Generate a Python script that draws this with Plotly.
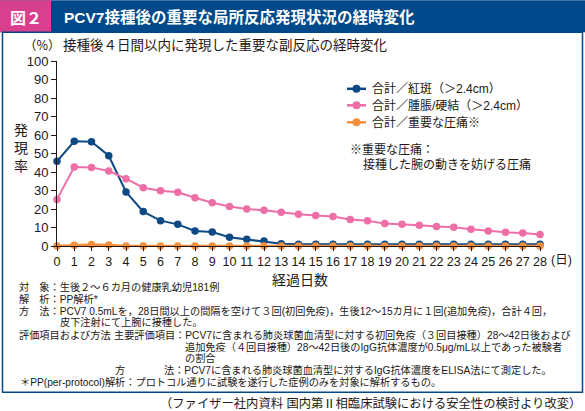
import plotly.graph_objects as go

# ---- data ----
days = list(range(0, 29))
erythema = [45.8, 56.6, 56.4, 48.8, 29.2, 18.6, 13.7, 11.7, 8.1, 7.6, 4.7, 3.6, 2.7, 1.2,
            0.9, 0.9, 0.9, 0.9, 0.9, 0.9, 0.9, 0.9, 0.9, 0.9, 0.9, 0.9, 0.9, 0.9, 0.9]
swelling = [25.2, 42.7, 42.5, 40.5, 36.4, 31.5, 29.9, 29.0, 26.1, 23.4, 21.4, 20.0, 19.3, 18.2,
            17.2, 16.5, 15.9, 14.3, 13.6, 12.1, 11.7, 11.2, 10.5, 10.1, 9.0, 8.1, 7.4, 7.0, 6.2]
tenderness = [0.0, 0.4, 0.8, 0.5, 0.0, 0.0, 0.0, 0.0, 0.0, 0.0, 0.0, 0.0, 0.0, 0.0,
              0.0, 0.0, 0.0, 0.0, 0.0, 0.0, 0.0, 0.0, 0.0, 0.0, 0.0, 0.0, 0.0, 0.0, 0.0]
series_names = ["合計／紅斑（＞2.4cm）", "合計／腫脹/硬結（＞2.4cm）", "合計／重要な圧痛※"]
y_ticks = list(range(0, 101, 10))

# ---- style ----
W, H = 585, 411
L, R, T, B = 57, 45, 60.7, 411 - 245.7
PW, PH = W - L - R, H - T - B
C_BLUE = "#0d4a85"
C_PINK = "#ee6ea8"
C_ORANGE = "#f5913e"
C_BAR = "#00498a"
C_FIGBOX = "#d8408d"
C_TEXT = "#231815"
JP = "Noto Sans CJK JP"
LAT = "Liberation Sans, Noto Sans CJK JP"


def px(x):
    return (x - L) / PW


def py(y):
    return (H - B - y) / PH


fig = go.Figure()
colors = [C_BLUE, C_PINK, C_ORANGE]
values = [erythema, swelling, tenderness]
widths = [2, 2, 2.5]
for name, vals, col, w in zip(series_names, values, colors, widths):
    fig.add_trace(go.Scatter(
        x=days, y=vals, name=name, mode="lines+markers",
        line=dict(color=col, width=w),
        marker=dict(color=col, size=7.5),
        cliponaxis=False, showlegend=False))

shapes = []
ann = []

# title bar
shapes.append(dict(type="rect", xref="paper", yref="paper", x0=px(0), x1=px(W), y0=py(0), y1=py(32),
                   fillcolor=C_BAR, line=dict(width=0), layer="below"))
shapes.append(dict(type="rect", xref="paper", yref="paper", x0=px(0), x1=px(51), y0=py(0), y1=py(32),
                   fillcolor=C_FIGBOX, line=dict(width=0), layer="below"))
# outer box
shapes.append(dict(type="rect", xref="paper", yref="paper", x0=px(2.5), x1=px(582.5), y0=py(32), y1=py(392),
                   fillcolor="rgba(0,0,0,0)", line=dict(color=C_BAR, width=1.5), layer="below"))

ann.append(dict(text="<b>図２</b>", x=px(26), y=py(17), font=dict(family=JP, size=16, color="white")))
ann.append(dict(text="<b>PCV7接種後の重要な局所反応発現状況の経時変化</b>", x=px(62), y=py(17), xanchor="left",
                font=dict(family="Liberation Sans, Noto Sans CJK JP", size=15.5, color="white")))
ann.append(dict(text="（%）", x=px(22), y=py(44), xanchor="left",
                font=dict(family=JP, size=12.5, color=C_TEXT)))
ann.append(dict(text="接種後４日間以内に発現した重要な副反応の経時変化", x=px(61), y=py(44), xanchor="left",
                font=dict(family=JP, size=13.5, color=C_TEXT)))
ann.append(dict(text="発<br>現<br>率", x=px(21), y=py(147), font=dict(family=JP, size=14, color=C_TEXT)))
ann.append(dict(text="(日)", x=px(549), y=py(260), xanchor="left",
                font=dict(family=LAT, size=12.5, color=C_TEXT)))
ann.append(dict(text="経過日数", x=px(300), y=py(279), font=dict(family=JP, size=14, color=C_TEXT)))

# legend (manual)
leg_y = [88.5, 105, 122]
for name, col, ly in zip(series_names, colors, leg_y):
    shapes.append(dict(type="line", xref="paper", yref="paper", x0=px(347), x1=px(366), y0=py(ly), y1=py(ly),
                       line=dict(color=col, width=2.5)))
    shapes.append(dict(type="circle", xref="paper", yref="paper", x0=px(352.5), x1=px(360.5),
                       y0=py(ly - 4), y1=py(ly + 4), fillcolor=col, line=dict(width=0)))
    ann.append(dict(text=name, x=px(370), y=py(ly), xanchor="left",
                    font=dict(family=LAT, size=12, color=C_TEXT)))
ann.append(dict(text="※重要な圧痛：", x=px(348), y=py(148), xanchor="left",
                font=dict(family=JP, size=12, color=C_TEXT)))
ann.append(dict(text="接種した腕の動きを妨げる圧痛", x=px(361), y=py(163), xanchor="left",
                font=dict(family=JP, size=12, color=C_TEXT)))

# notes
NF = dict(family=LAT, size=10.2, color=C_TEXT)
notes = [
    (17, 287, "対　象：生後２～６カ月の健康乳幼児181例"),
    (17, 299, "解　析：PP解析*"),
    (17, 311, "方　法：PCV7 0.5mLを，28日間以上の間隔を空けて３回(初回免疫)，生後12～15カ月に１回(追加免疫)，合計４回，"),
    (58, 322, "皮下注射にて上腕に接種した。"),
    (17, 335, "評価項目および方法"),
    (112, 335, "主要評価項目：PCV7に含まれる肺炎球菌血清型に対する初回免疫（３回目接種）28～42日後および"),
    (183, 347, "追加免疫（４回目接種）28～42日後のIgG抗体濃度が0.5μg/mL以上であった被験者"),
    (183, 358, "の割合"),
    (113, 370, "方"),
    (162, 370, "法：PCV7に含まれる肺炎球菌血清型に対するIgG抗体濃度をELISA法にて測定した。"),
    (18, 382, "＊PP(per-protocol)解析：プロトコル通りに試験を遂行した症例のみを対象に解析するもの。"),
]
for x0, y0, t in notes:
    ann.append(dict(text=t, x=px(x0), y=py(y0), xanchor="left", font=NF))
ann.append(dict(text="（ファイザー社内資料 国内第Ⅱ相臨床試験における安全性の検討より改変）", x=px(583), y=py(403),
                xanchor="right", font=dict(family=LAT, size=12.3, color=C_TEXT)))

for a in ann:
    a.update(xref="paper", yref="paper", showarrow=False)
    a.setdefault("xanchor", "center")
    a.setdefault("yanchor", "middle")

fig.update_layout(
    width=W, height=H, margin=dict(l=L, r=R, t=T, b=B),
    paper_bgcolor="white", plot_bgcolor="white",
    shapes=shapes, annotations=ann,
    xaxis=dict(range=[0, 28], tickmode="array", tickvals=days, ticktext=[str(d) for d in days],
               showgrid=False, zeroline=False, showline=True, linecolor=C_TEXT, linewidth=1,
               ticks="outside", ticklen=4, tickcolor=C_TEXT,
               tickfont=dict(family="Liberation Sans", size=12.5, color=C_TEXT)),
    yaxis=dict(range=[0, 100], tickmode="array", tickvals=y_ticks, ticktext=[str(v) for v in y_ticks],
               showgrid=False, zeroline=False, showline=True, linecolor=C_TEXT, linewidth=1,
               ticks="outside", ticklen=5, tickcolor=C_TEXT,
               tickfont=dict(family="Liberation Sans", size=13, color=C_TEXT)),
)

fig.write_html("out.html", config={"displayModeBar": False},
               post_script="document.body.style.margin='0';document.body.style.padding='0';")
